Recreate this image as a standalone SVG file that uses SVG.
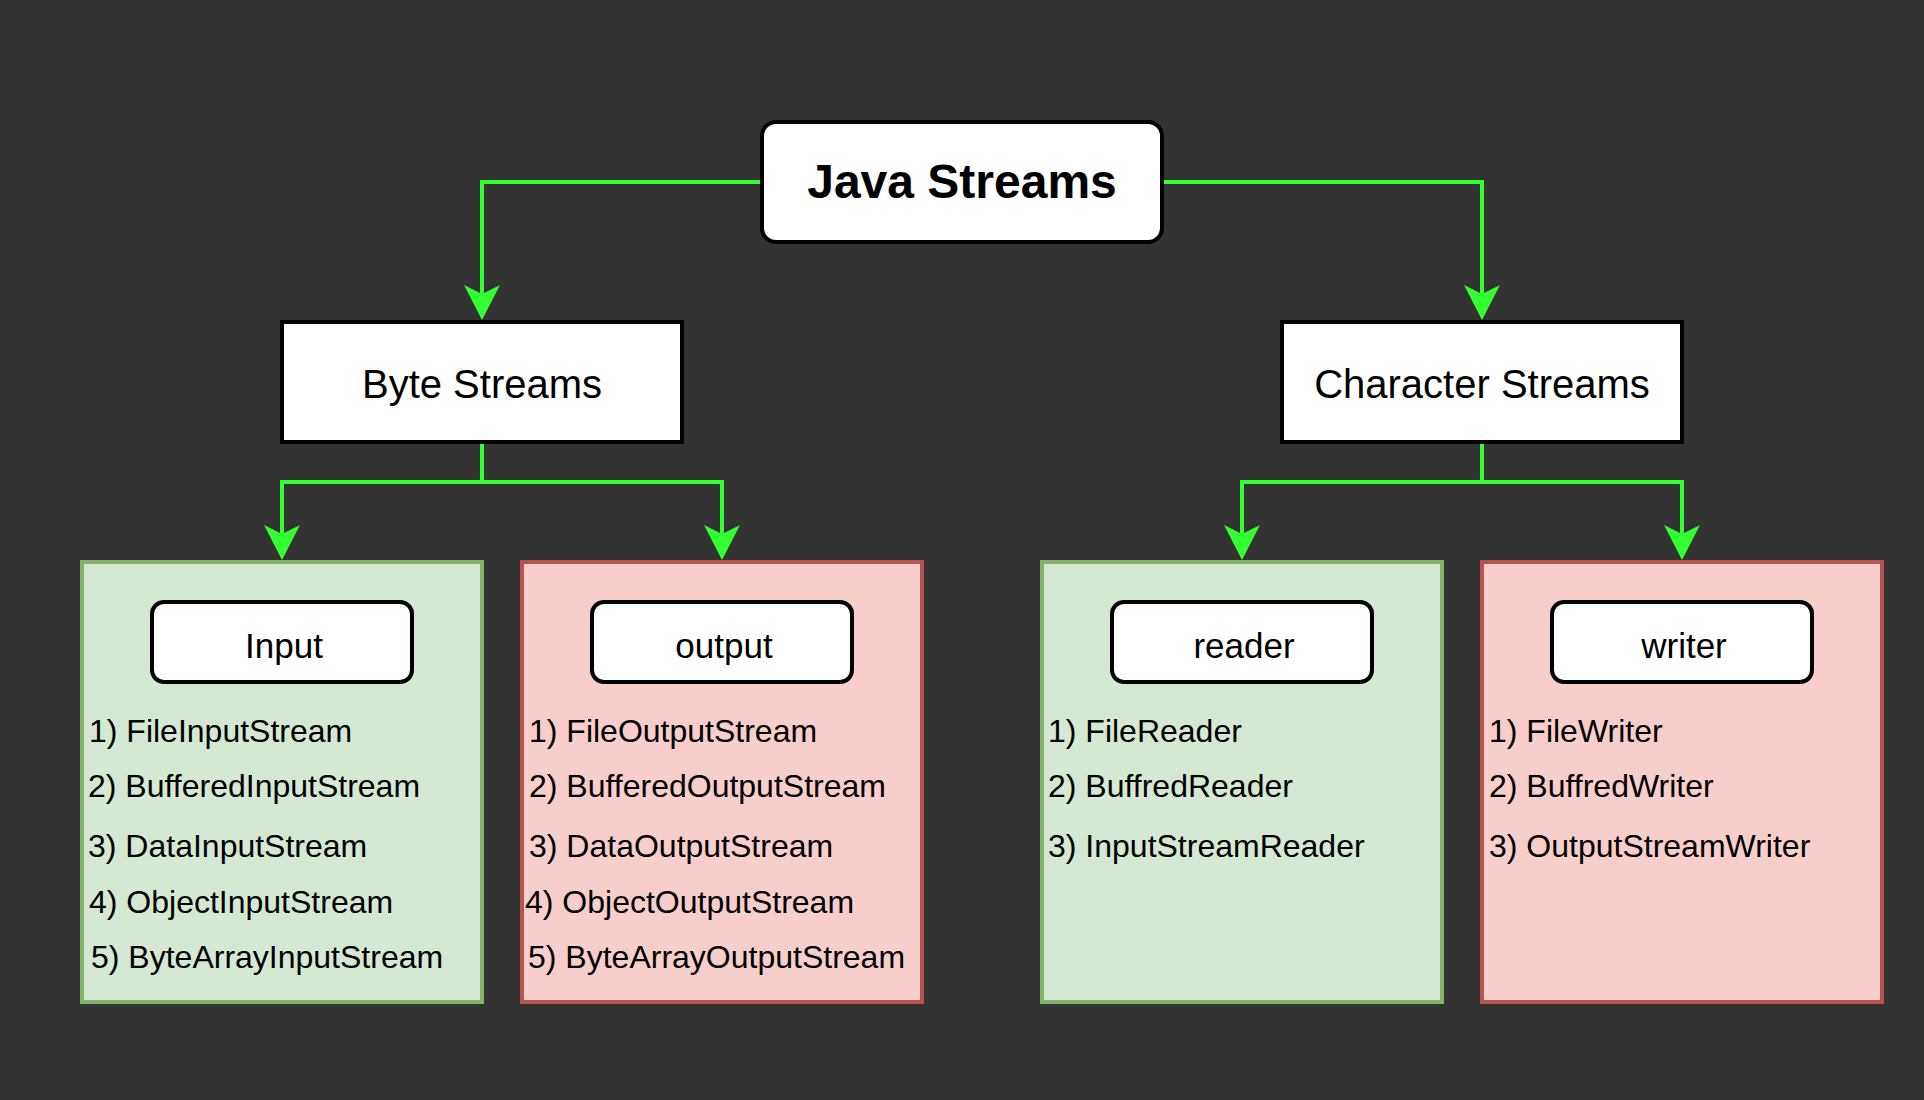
<svg xmlns="http://www.w3.org/2000/svg" width="1924" height="1100" viewBox="0 0 1924 1100">
<style>
.main{fill:#ffffff;stroke:#000000;stroke-width:4}
.grp-in{fill:#d5e8d4;stroke:#82b366;stroke-width:4}
.grp-out{fill:#f8cecc;stroke:#b85450;stroke-width:4}
.lbl{fill:#ffffff;stroke:#000000;stroke-width:4}
.t{font-family:"Liberation Sans",Arial,sans-serif;fill:#000000}
.title{font-size:48px;font-weight:bold;text-anchor:middle}
.sub{font-size:40px;text-anchor:middle}
.cap{font-size:35px;text-anchor:middle}
.item{font-size:32px}
.conn{fill:none;stroke:#33ff33;stroke-width:4;marker-end:url(#arr)}
</style>
<defs>
<marker id="arr" markerUnits="userSpaceOnUse" markerWidth="36" markerHeight="36" viewBox="0 0 35 36" refX="29" refY="18" orient="auto">
<path d="M0,0 L35,18 L0,36 L9,18 Z" fill="#33ff33"/>
</marker>
</defs>
<rect x="0" y="0" width="1924" height="1100" fill="#333333"/>
<g id="connectors">
<path class="conn" d="M762,182 H482 V314"/>
<path class="conn" d="M1162,182 H1482 V314"/>
<path class="conn" d="M482,442 V482 H282 V554"/>
<path class="conn" d="M482,482 H722 V554"/>
<path class="conn" d="M1482,442 V482 H1242 V554"/>
<path class="conn" d="M1482,482 H1682 V554"/>
</g>
<g id="java-streams">
<rect class="main" x="762" y="122" width="400" height="120" rx="14"/>
<text class="t title" x="962" y="198">Java Streams</text>
</g>
<g id="byte-streams">
<rect class="main" x="282" y="322" width="400" height="120"/>
<text class="t sub" x="482" y="398">Byte Streams</text>
</g>
<g id="character-streams">
<rect class="main" x="1282" y="322" width="400" height="120"/>
<text class="t sub" x="1482" y="398">Character Streams</text>
</g>
<g id="input">
<rect class="grp-in" x="82" y="562" width="400" height="440"/>
<rect class="lbl" x="152" y="602" width="260" height="80" rx="12"/>
<text class="t cap" x="284" y="658">Input</text>
<text class="t item" x="89" y="742">1) FileInputStream</text>
<text class="t item" x="88" y="797">2) BufferedInputStream</text>
<text class="t item" x="88" y="857">3) DataInputStream</text>
<text class="t item" x="89" y="913">4) ObjectInputStream</text>
<text class="t item" x="91" y="968">5) ByteArrayInputStream</text>
</g>
<g id="output">
<rect class="grp-out" x="522" y="562" width="400" height="440"/>
<rect class="lbl" x="592" y="602" width="260" height="80" rx="12"/>
<text class="t cap" x="724" y="658">output</text>
<text class="t item" x="529" y="742">1) FileOutputStream</text>
<text class="t item" x="529" y="797">2) BufferedOutputStream</text>
<text class="t item" x="529" y="857">3) DataOutputStream</text>
<text class="t item" x="525" y="913">4) ObjectOutputStream</text>
<text class="t item" x="528" y="968">5) ByteArrayOutputStream</text>
</g>
<g id="reader">
<rect class="grp-in" x="1042" y="562" width="400" height="440"/>
<rect class="lbl" x="1112" y="602" width="260" height="80" rx="12"/>
<text class="t cap" x="1244" y="658">reader</text>
<text class="t item" x="1048" y="742">1) FileReader</text>
<text class="t item" x="1048" y="797">2) BuffredReader</text>
<text class="t item" x="1048" y="857">3) InputStreamReader</text>
</g>
<g id="writer">
<rect class="grp-out" x="1482" y="562" width="400" height="440"/>
<rect class="lbl" x="1552" y="602" width="260" height="80" rx="12"/>
<text class="t cap" x="1684" y="658">writer</text>
<text class="t item" x="1489" y="742">1) FileWriter</text>
<text class="t item" x="1489" y="797">2) BuffredWriter</text>
<text class="t item" x="1489" y="857">3) OutputStreamWriter</text>
</g>
</svg>
